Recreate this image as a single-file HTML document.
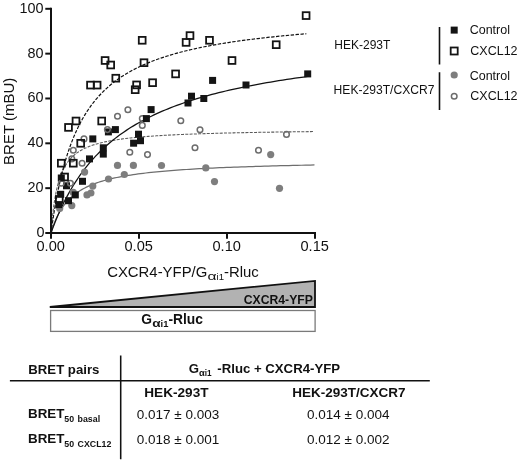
<!DOCTYPE html>
<html><head><meta charset="utf-8"><title>BRET</title>
<style>html,body{margin:0;padding:0;background:#fff}body{width:520px;height:463px;overflow:hidden;font-family:"Liberation Sans",sans-serif}svg{display:block;will-change:transform}</style>
</head><body>
<svg width="520" height="463" viewBox="0 0 520 463">
<rect width="520" height="463" fill="#fff"/>
<path d="M51.00,233.00 L51.02,232.94 L51.07,232.75 L51.16,232.44 L51.29,232.01 L51.46,231.46 L51.66,230.80 L51.90,230.04 L52.17,229.19 L52.48,228.24 L52.83,227.21 L53.21,226.11 L53.63,224.94 L54.09,223.72 L54.59,222.45 L55.12,221.14 L55.68,219.80 L56.29,218.43 L56.93,217.05 L57.61,215.66 L58.32,214.26 L59.07,212.87 L59.86,211.48 L60.68,210.10 L61.54,208.74 L62.44,207.39 L63.37,206.07 L64.34,204.77 L65.34,203.49 L66.39,202.24 L67.47,201.02 L68.58,199.83 L69.74,198.67 L70.93,197.54 L72.15,196.45 L73.41,195.38 L74.71,194.35 L76.05,193.34 L77.42,192.37 L78.83,191.43 L80.27,190.52 L81.76,189.64 L83.28,188.78 L84.83,187.96 L86.42,187.16 L88.05,186.39 L89.72,185.64 L91.42,184.92 L93.16,184.22 L94.93,183.55 L96.74,182.90 L98.59,182.27 L100.47,181.67 L102.40,181.08 L104.35,180.52 L106.35,179.97 L108.38,179.44 L110.45,178.93 L112.55,178.44 L114.69,177.96 L116.87,177.50 L119.08,177.05 L121.33,176.62 L123.62,176.20 L125.94,175.80 L128.30,175.41 L130.70,175.03 L133.13,174.66 L135.60,174.31 L138.11,173.97 L140.65,173.63 L143.23,173.31 L145.85,173.00 L148.50,172.70 L151.19,172.41 L153.92,172.12 L156.68,171.85 L159.48,171.58 L162.32,171.32 L165.19,171.07 L168.10,170.83 L171.04,170.59 L174.03,170.36 L177.05,170.14 L180.10,169.92 L183.19,169.71 L186.32,169.50 L189.49,169.31 L192.69,169.11 L195.93,168.92 L199.20,168.74 L202.51,168.56 L205.86,168.39 L209.25,168.22 L212.67,168.06 L216.13,167.90 L219.62,167.74 L223.15,167.59 L226.72,167.45 L230.33,167.30 L233.97,167.16 L237.64,167.03 L241.36,166.89 L245.11,166.77 L248.90,166.64 L252.72,166.52 L256.58,166.40 L260.48,166.28 L264.41,166.16 L268.38,166.05 L272.39,165.94 L276.43,165.84 L280.51,165.73 L284.63,165.63 L288.78,165.53 L292.97,165.44 L297.20,165.34 L301.46,165.25 L305.76,165.16 L310.10,165.07 L314.47,164.99" fill="none" stroke="#6e6e6e" stroke-width="1.25"/>
<path d="M51.00,233.00 L51.02,232.76 L51.07,232.05 L51.16,230.88 L51.29,229.29 L51.46,227.31 L51.66,225.00 L51.89,222.40 L52.17,219.57 L52.48,216.57 L52.82,213.44 L53.21,210.22 L53.63,206.97 L54.08,203.72 L54.58,200.50 L55.11,197.33 L55.67,194.24 L56.27,191.24 L56.91,188.34 L57.59,185.56 L58.30,182.89 L59.05,180.35 L59.83,177.92 L60.65,175.61 L61.51,173.42 L62.40,171.34 L63.34,169.37 L64.30,167.51 L65.31,165.75 L66.35,164.09 L67.42,162.51 L68.54,161.03 L69.69,159.62 L70.87,158.30 L72.09,157.04 L73.35,155.86 L74.65,154.73 L75.98,153.67 L77.35,152.67 L78.75,151.72 L80.20,150.82 L81.67,149.96 L83.19,149.15 L84.74,148.38 L86.33,147.66 L87.95,146.96 L89.61,146.31 L91.31,145.68 L93.04,145.08 L94.81,144.52 L96.62,143.98 L98.46,143.46 L100.34,142.97 L102.26,142.51 L104.21,142.06 L106.20,141.63 L108.23,141.22 L110.29,140.83 L112.39,140.46 L114.52,140.11 L116.69,139.76 L118.90,139.44 L121.14,139.12 L123.43,138.82 L125.74,138.53 L128.10,138.26 L130.49,137.99 L132.91,137.73 L135.38,137.49 L137.88,137.25 L140.41,137.02 L142.99,136.81 L145.60,136.59 L148.24,136.39 L150.92,136.20 L153.64,136.01 L156.40,135.82 L159.19,135.65 L162.02,135.48 L164.88,135.32 L167.79,135.16 L170.72,135.01 L173.70,134.86 L176.71,134.72 L179.76,134.58 L182.84,134.44 L185.96,134.31 L189.12,134.19 L192.31,134.07 L195.54,133.95 L198.81,133.84 L202.11,133.73 L205.45,133.62 L208.83,133.52 L212.24,133.41 L215.69,133.32 L219.17,133.22 L222.69,133.13 L226.25,133.04 L229.85,132.95 L233.48,132.87 L237.15,132.79 L240.85,132.71 L244.59,132.63 L248.37,132.55 L252.18,132.48 L256.03,132.41 L259.92,132.34 L263.84,132.27 L267.80,132.20 L271.80,132.14 L275.83,132.08 L279.90,132.02 L284.01,131.96 L288.15,131.90 L292.33,131.84 L296.54,131.79 L300.79,131.73 L305.08,131.68 L309.41,131.63 L313.77,131.58" fill="none" stroke="#5a5a5a" stroke-width="1.05" stroke-dasharray="3,1.3"/>
<path d="M51.00,233.00 L51.02,232.95 L51.07,232.80 L51.16,232.55 L51.29,232.21 L51.45,231.76 L51.64,231.22 L51.87,230.59 L52.14,229.86 L52.44,229.04 L52.78,228.14 L53.16,227.15 L53.57,226.07 L54.01,224.92 L54.50,223.69 L55.01,222.38 L55.57,221.01 L56.15,219.56 L56.78,218.06 L57.44,216.49 L58.13,214.87 L58.86,213.19 L59.63,211.47 L60.43,209.70 L61.27,207.89 L62.15,206.04 L63.05,204.16 L64.00,202.25 L64.98,200.31 L66.00,198.34 L67.05,196.35 L68.14,194.35 L69.26,192.33 L70.42,190.30 L71.61,188.26 L72.84,186.21 L74.11,184.16 L75.41,182.11 L76.75,180.06 L78.12,178.01 L79.53,175.97 L80.98,173.93 L82.46,171.91 L83.97,169.89 L85.52,167.89 L87.11,165.90 L88.73,163.92 L90.39,161.96 L92.09,160.02 L93.82,158.10 L95.58,156.20 L97.38,154.31 L99.22,152.45 L101.09,150.61 L103.00,148.79 L104.94,147.00 L106.92,145.22 L108.94,143.48 L110.99,141.75 L113.07,140.05 L115.20,138.38 L117.35,136.72 L119.55,135.10 L121.78,133.50 L124.04,131.92 L126.34,130.37 L128.68,128.84 L131.05,127.34 L133.46,125.86 L135.90,124.41 L138.38,122.98 L140.89,121.58 L143.44,120.20 L146.03,118.84 L148.65,117.51 L151.31,116.20 L154.00,114.91 L156.73,113.65 L159.49,112.41 L162.29,111.19 L165.13,109.99 L168.00,108.82 L170.90,107.67 L173.85,106.53 L176.82,105.42 L179.84,104.33 L182.89,103.26 L185.97,102.20 L189.09,101.17 L192.25,100.16 L195.44,99.16 L198.67,98.19 L201.93,97.23 L205.23,96.29 L208.57,95.36 L211.94,94.46 L215.34,93.57 L218.78,92.69 L222.26,91.83 L225.77,90.99 L229.32,90.17 L232.91,89.35 L236.53,88.56 L240.18,87.78 L243.87,87.01 L247.60,86.26 L251.36,85.52 L255.16,84.79 L259.00,84.08 L262.86,83.38 L266.77,82.69 L270.71,82.01 L274.69,81.35 L278.70,80.70 L282.75,80.06 L286.83,79.43 L290.95,78.82 L295.11,78.21 L299.30,77.62 L303.52,77.03 L307.78,76.46" fill="none" stroke="#111" stroke-width="1.25"/>
<path d="M51.00,233.00 L51.02,232.87 L51.07,232.47 L51.16,231.82 L51.28,230.91 L51.44,229.75 L51.64,228.36 L51.87,226.73 L52.14,224.88 L52.44,222.82 L52.77,220.56 L53.15,218.13 L53.55,215.52 L54.00,212.76 L54.48,209.86 L54.99,206.84 L55.54,203.71 L56.13,200.49 L56.75,197.19 L57.40,193.82 L58.09,190.39 L58.82,186.93 L59.58,183.44 L60.38,179.93 L61.22,176.41 L62.08,172.90 L62.99,169.39 L63.93,165.91 L64.90,162.45 L65.91,159.03 L66.96,155.64 L68.04,152.30 L69.16,149.00 L70.31,145.76 L71.50,142.57 L72.72,139.44 L73.98,136.38 L75.28,133.37 L76.61,130.43 L77.97,127.55 L79.38,124.73 L80.81,121.98 L82.28,119.30 L83.79,116.69 L85.33,114.14 L86.91,111.65 L88.53,109.23 L90.18,106.87 L91.86,104.58 L93.58,102.34 L95.34,100.17 L97.13,98.05 L98.95,96.00 L100.82,94.00 L102.71,92.06 L104.65,90.17 L106.62,88.33 L108.62,86.55 L110.66,84.82 L112.73,83.13 L114.84,81.50 L116.99,79.91 L119.17,78.36 L121.39,76.86 L123.64,75.40 L125.93,73.98 L128.25,72.60 L130.61,71.26 L133.00,69.96 L135.43,68.70 L137.90,67.47 L140.40,66.27 L142.94,65.11 L145.51,63.98 L148.11,62.88 L150.76,61.81 L153.43,60.77 L156.15,59.75 L158.90,58.77 L161.68,57.81 L164.50,56.88 L167.36,55.97 L170.25,55.09 L173.17,54.23 L176.13,53.39 L179.13,52.57 L182.16,51.78 L185.23,51.01 L188.34,50.25 L191.47,49.52 L194.65,48.80 L197.86,48.11 L201.10,47.42 L204.39,46.76 L207.70,46.12 L211.05,45.48 L214.44,44.87 L217.86,44.27 L221.32,43.68 L224.82,43.11 L228.34,42.56 L231.91,42.01 L235.51,41.48 L239.14,40.96 L242.82,40.46 L246.52,39.96 L250.26,39.48 L254.04,39.01 L257.85,38.55 L261.70,38.09 L265.59,37.65 L269.51,37.22 L273.46,36.80 L277.45,36.39 L281.48,35.99 L285.54,35.60 L289.63,35.21 L293.77,34.84 L297.93,34.47 L302.14,34.11 L306.38,33.75" fill="none" stroke="#111" stroke-width="1.2" stroke-dasharray="3.4,1.5"/>
<circle cx="117.5" cy="165.4" r="3.6" fill="#7e7e7e"/>
<circle cx="133.4" cy="165.4" r="3.6" fill="#7e7e7e"/>
<circle cx="124.3" cy="174.5" r="3.6" fill="#7e7e7e"/>
<circle cx="108.5" cy="179" r="3.6" fill="#7e7e7e"/>
<circle cx="84.6" cy="172.1" r="3.6" fill="#7e7e7e"/>
<circle cx="92.8" cy="186.1" r="3.6" fill="#7e7e7e"/>
<circle cx="90.9" cy="193" r="3.6" fill="#7e7e7e"/>
<circle cx="87" cy="194.9" r="3.6" fill="#7e7e7e"/>
<circle cx="73.3" cy="192.4" r="3.6" fill="#7e7e7e"/>
<circle cx="71.8" cy="205.6" r="3.6" fill="#7e7e7e"/>
<circle cx="59.7" cy="208.5" r="3.6" fill="#7e7e7e"/>
<circle cx="161.5" cy="165.5" r="3.6" fill="#7e7e7e"/>
<circle cx="205.8" cy="167.9" r="3.6" fill="#7e7e7e"/>
<circle cx="214.5" cy="181.6" r="3.6" fill="#7e7e7e"/>
<circle cx="270.7" cy="154.6" r="3.6" fill="#7e7e7e"/>
<circle cx="279.5" cy="188.3" r="3.6" fill="#7e7e7e"/>
<circle cx="142.3" cy="118.6" r="2.8" fill="none" stroke="#6c6c6c" stroke-width="1.5"/>
<rect x="111.9" y="126.1" width="7" height="7" fill="#141414"/>
<rect x="104.9" y="128.4" width="7" height="7" fill="#141414"/>
<rect x="89.3" y="135.4" width="7" height="7" fill="#141414"/>
<rect x="135.0" y="130.7" width="7" height="7" fill="#141414"/>
<rect x="137.0" y="137.2" width="7" height="7" fill="#141414"/>
<rect x="130.1" y="139.7" width="7" height="7" fill="#141414"/>
<rect x="99.8" y="144.3" width="7" height="7" fill="#141414"/>
<rect x="99.8" y="150.6" width="7" height="7" fill="#141414"/>
<rect x="86.0" y="155.4" width="7" height="7" fill="#141414"/>
<rect x="79.0" y="177.8" width="7" height="7" fill="#141414"/>
<rect x="57.8" y="174.5" width="7" height="7" fill="#141414"/>
<rect x="63.0" y="182.3" width="7" height="7" fill="#141414"/>
<rect x="57.2" y="190.8" width="7" height="7" fill="#141414"/>
<rect x="71.8" y="191.4" width="7" height="7" fill="#141414"/>
<rect x="55.3" y="201.1" width="7" height="7" fill="#141414"/>
<rect x="65.0" y="197.2" width="7" height="7" fill="#141414"/>
<rect x="209.1" y="76.9" width="7" height="7" fill="#141414"/>
<rect x="188.0" y="92.7" width="7" height="7" fill="#141414"/>
<rect x="184.5" y="99.5" width="7" height="7" fill="#141414"/>
<rect x="200.3" y="95.0" width="7" height="7" fill="#141414"/>
<rect x="147.6" y="106.1" width="7" height="7" fill="#141414"/>
<rect x="142.9" y="115.1" width="7" height="7" fill="#141414"/>
<rect x="304.2" y="70.4" width="7" height="7" fill="#141414"/>
<rect x="242.5" y="81.5" width="7" height="7" fill="#141414"/>
<circle cx="142.3" cy="125.4" r="2.8" fill="none" stroke="#6c6c6c" stroke-width="1.5"/>
<circle cx="107.4" cy="129.6" r="2.8" fill="none" stroke="#6c6c6c" stroke-width="1.5"/>
<circle cx="84" cy="138.9" r="2.8" fill="none" stroke="#6c6c6c" stroke-width="1.5"/>
<circle cx="73.3" cy="150.2" r="2.8" fill="none" stroke="#6c6c6c" stroke-width="1.5"/>
<circle cx="71.8" cy="158.9" r="2.8" fill="none" stroke="#6c6c6c" stroke-width="1.5"/>
<circle cx="82.1" cy="163.2" r="2.8" fill="none" stroke="#6c6c6c" stroke-width="1.5"/>
<circle cx="129.8" cy="152.2" r="2.8" fill="none" stroke="#6c6c6c" stroke-width="1.5"/>
<circle cx="147.5" cy="154.6" r="2.8" fill="none" stroke="#6c6c6c" stroke-width="1.5"/>
<circle cx="61.3" cy="183.2" r="2.8" fill="none" stroke="#6c6c6c" stroke-width="1.5"/>
<circle cx="70.4" cy="183.2" r="2.8" fill="none" stroke="#6c6c6c" stroke-width="1.5"/>
<circle cx="127.9" cy="109.7" r="2.8" fill="none" stroke="#6c6c6c" stroke-width="1.5"/>
<circle cx="117.5" cy="116.2" r="2.8" fill="none" stroke="#6c6c6c" stroke-width="1.5"/>
<circle cx="180.8" cy="120.8" r="2.8" fill="none" stroke="#6c6c6c" stroke-width="1.5"/>
<circle cx="200" cy="129.7" r="2.8" fill="none" stroke="#6c6c6c" stroke-width="1.5"/>
<circle cx="195" cy="147.7" r="2.8" fill="none" stroke="#6c6c6c" stroke-width="1.5"/>
<circle cx="286.5" cy="134.4" r="2.8" fill="none" stroke="#6c6c6c" stroke-width="1.5"/>
<circle cx="258.5" cy="150.3" r="2.8" fill="none" stroke="#6c6c6c" stroke-width="1.5"/>
<rect x="65.1" y="124.0" width="6.8" height="6.8" fill="none" stroke="#141414" stroke-width="1.8"/>
<rect x="72.6" y="117.6" width="6.8" height="6.8" fill="none" stroke="#141414" stroke-width="1.8"/>
<rect x="98.3" y="117.6" width="6.8" height="6.8" fill="none" stroke="#141414" stroke-width="1.8"/>
<rect x="77.3" y="139.9" width="6.8" height="6.8" fill="none" stroke="#141414" stroke-width="1.8"/>
<rect x="57.9" y="159.8" width="6.8" height="6.8" fill="none" stroke="#141414" stroke-width="1.8"/>
<rect x="69.9" y="159.8" width="6.8" height="6.8" fill="none" stroke="#141414" stroke-width="1.8"/>
<rect x="61.2" y="173.6" width="6.8" height="6.8" fill="none" stroke="#141414" stroke-width="1.8"/>
<rect x="55.9" y="196.0" width="6.8" height="6.8" fill="none" stroke="#141414" stroke-width="1.8"/>
<rect x="138.8" y="36.9" width="6.8" height="6.8" fill="none" stroke="#141414" stroke-width="1.8"/>
<rect x="101.7" y="57.1" width="6.8" height="6.8" fill="none" stroke="#141414" stroke-width="1.8"/>
<rect x="107.3" y="61.6" width="6.8" height="6.8" fill="none" stroke="#141414" stroke-width="1.8"/>
<rect x="140.6" y="59.3" width="6.8" height="6.8" fill="none" stroke="#141414" stroke-width="1.8"/>
<rect x="112.4" y="74.8" width="6.8" height="6.8" fill="none" stroke="#141414" stroke-width="1.8"/>
<rect x="87.1" y="81.7" width="6.8" height="6.8" fill="none" stroke="#141414" stroke-width="1.8"/>
<rect x="93.7" y="81.7" width="6.8" height="6.8" fill="none" stroke="#141414" stroke-width="1.8"/>
<rect x="133.2" y="81.5" width="6.8" height="6.8" fill="none" stroke="#141414" stroke-width="1.8"/>
<rect x="131.8" y="86.3" width="6.8" height="6.8" fill="none" stroke="#141414" stroke-width="1.8"/>
<rect x="186.6" y="32.2" width="6.8" height="6.8" fill="none" stroke="#141414" stroke-width="1.8"/>
<rect x="182.7" y="39.0" width="6.8" height="6.8" fill="none" stroke="#141414" stroke-width="1.8"/>
<rect x="206.1" y="36.9" width="6.8" height="6.8" fill="none" stroke="#141414" stroke-width="1.8"/>
<rect x="228.6" y="57.1" width="6.8" height="6.8" fill="none" stroke="#141414" stroke-width="1.8"/>
<rect x="172.2" y="70.5" width="6.8" height="6.8" fill="none" stroke="#141414" stroke-width="1.8"/>
<rect x="149.2" y="79.3" width="6.8" height="6.8" fill="none" stroke="#141414" stroke-width="1.8"/>
<rect x="302.7" y="12.2" width="6.8" height="6.8" fill="none" stroke="#141414" stroke-width="1.8"/>
<rect x="272.8" y="41.3" width="6.8" height="6.8" fill="none" stroke="#141414" stroke-width="1.8"/>
<g stroke="#111" stroke-width="2" fill="none">
<path d="M51,7.8 V234"/>
<path d="M50,233 H316"/>
<path d="M45.3,233.0 H51"/>
<path d="M45.3,188.16 H51"/>
<path d="M45.3,143.32 H51"/>
<path d="M45.3,98.47999999999999 H51"/>
<path d="M45.3,53.639999999999986 H51"/>
<path d="M45.3,8.800000000000011 H51"/>
<path d="M51,233 V238.8"/>
<path d="M139,233 V238.8"/>
<path d="M227,233 V238.8"/>
<path d="M315,233 V238.8"/>
</g>
<g font-family="Liberation Sans, sans-serif" font-size="13.5" fill="#111">
<text x="44.6" y="236.90" text-anchor="end" font-size="14.4">0</text>
<text x="43.5" y="192.06" text-anchor="end" font-size="14.4">20</text>
<text x="43.5" y="147.22" text-anchor="end" font-size="14.4">40</text>
<text x="43.5" y="102.38" text-anchor="end" font-size="14.4">60</text>
<text x="43.5" y="57.54" text-anchor="end" font-size="14.4">80</text>
<text x="43.5" y="12.70" text-anchor="end" font-size="14.4">100</text>
<text x="50.7" y="250.6" text-anchor="middle" font-size="14.6">0.00</text>
<text x="138.7" y="250.6" text-anchor="middle" font-size="14.6">0.05</text>
<text x="226.7" y="250.6" text-anchor="middle" font-size="14.6">0.10</text>
<text x="314.7" y="250.6" text-anchor="middle" font-size="14.6">0.15</text>
</g>
<text transform="translate(14.3,121.3) rotate(-90)" text-anchor="middle" font-family="Liberation Sans, sans-serif" font-size="15" fill="#111">BRET (mBU)</text>
<g font-family="Liberation Sans, sans-serif" fill="#111"><text x="207.3" y="277.3" text-anchor="end" font-size="14.9">CXCR4-YFP/G</text><text x="207.5" y="280.2" font-size="11" textLength="9" lengthAdjust="spacingAndGlyphs">α</text><text x="216.6" y="280.2" font-size="9.6">i1</text><text x="224" y="277.3" font-size="14.9">-Rluc</text></g>
<path d="M49.8,307 L315,280.9 V307 Z" fill="#b2b2b2" stroke="#111" stroke-width="1.8" stroke-linejoin="miter"/>
<text x="312.9" y="303.5" text-anchor="end" font-family="Liberation Sans, sans-serif" font-weight="bold" font-size="12.2" fill="#111">CXCR4-YFP</text>
<rect x="50.6" y="310.5" width="264.5" height="20.9" fill="#fff" stroke="#7a7a7a" stroke-width="1.3"/>
<g font-family="Liberation Sans, sans-serif" font-weight="bold" fill="#111"><text x="141.2" y="323.8" font-size="13.8">G</text><text x="152.3" y="327.3" font-size="10.5" textLength="8.4" lengthAdjust="spacingAndGlyphs">α</text><text x="160.6" y="327.3" font-size="9.4">i1</text><text x="168.4" y="323.8" font-size="13.8">-Rluc</text></g>
<g font-family="Liberation Sans, sans-serif" font-size="12.5" fill="#111">
<text x="334.3" y="48.7" font-size="12">HEK-293T</text>
<text x="333.6" y="93.7" font-size="12.1">HEK-293T/CXCR7</text>
<text x="469.7" y="34">Control</text>
<text x="470.3" y="55">CXCL12</text>
<text x="469.7" y="79.7">Control</text>
<text x="470.3" y="100">CXCL12</text>
</g>
<path d="M439.5,26.9 V64.4 M439.5,72.2 V110" stroke="#111" stroke-width="1.6"/>
<rect x="450.7" y="26.6" width="7" height="7" fill="#141414"/>
<rect x="450.7" y="47.5" width="7" height="7" fill="#fff" stroke="#141414" stroke-width="1.8"/>
<circle cx="454.2" cy="75" r="3.6" fill="#7e7e7e"/>
<circle cx="454.2" cy="96.3" r="2.8" fill="#fff" stroke="#6c6c6c" stroke-width="1.5"/>
<path d="M9.9,380.8 H429.8 M120.7,355.4 V459.3" stroke="#111" stroke-width="1.55"/>
<g font-family="Liberation Sans, sans-serif" font-size="13.2" fill="#111">
<g font-weight="bold">
<text x="28.3" y="373.8">BRET pairs</text>
<text x="188.8" y="372.6">G</text><text x="199" y="375.6" font-size="8.6" textLength="5.8" lengthAdjust="spacingAndGlyphs">α</text><text x="204.7" y="375.6" font-size="8.2">i1</text><text x="217.3" y="372.5">-Rluc + CXCR4-YFP</text>
<text x="144.3" y="397" font-size="13.6">HEK-293T</text>
<text x="292.3" y="397" font-size="13.5">HEK-293T/CXCR7</text>
<text x="28" y="418.2" font-size="13.4">BRET</text><text x="64.3" y="422.1" font-size="8.8">50</text><text x="77.6" y="422.1" font-size="8.8">basal</text>
<text x="28" y="443.4" font-size="13.4">BRET</text><text x="64.3" y="447.2" font-size="8.8">50</text><text x="77.6" y="447.2" font-size="8.8">CXCL12</text>
</g>
<text x="136.8" y="418.6" font-size="13.5">0.017 ± 0.003</text>
<text x="136.8" y="444.4" font-size="13.5">0.018 ± 0.001</text>
<text x="307" y="418.6" font-size="13.5">0.014 ± 0.004</text>
<text x="307" y="444.4" font-size="13.5">0.012 ± 0.002</text>
</g>
</svg>
</body></html>
